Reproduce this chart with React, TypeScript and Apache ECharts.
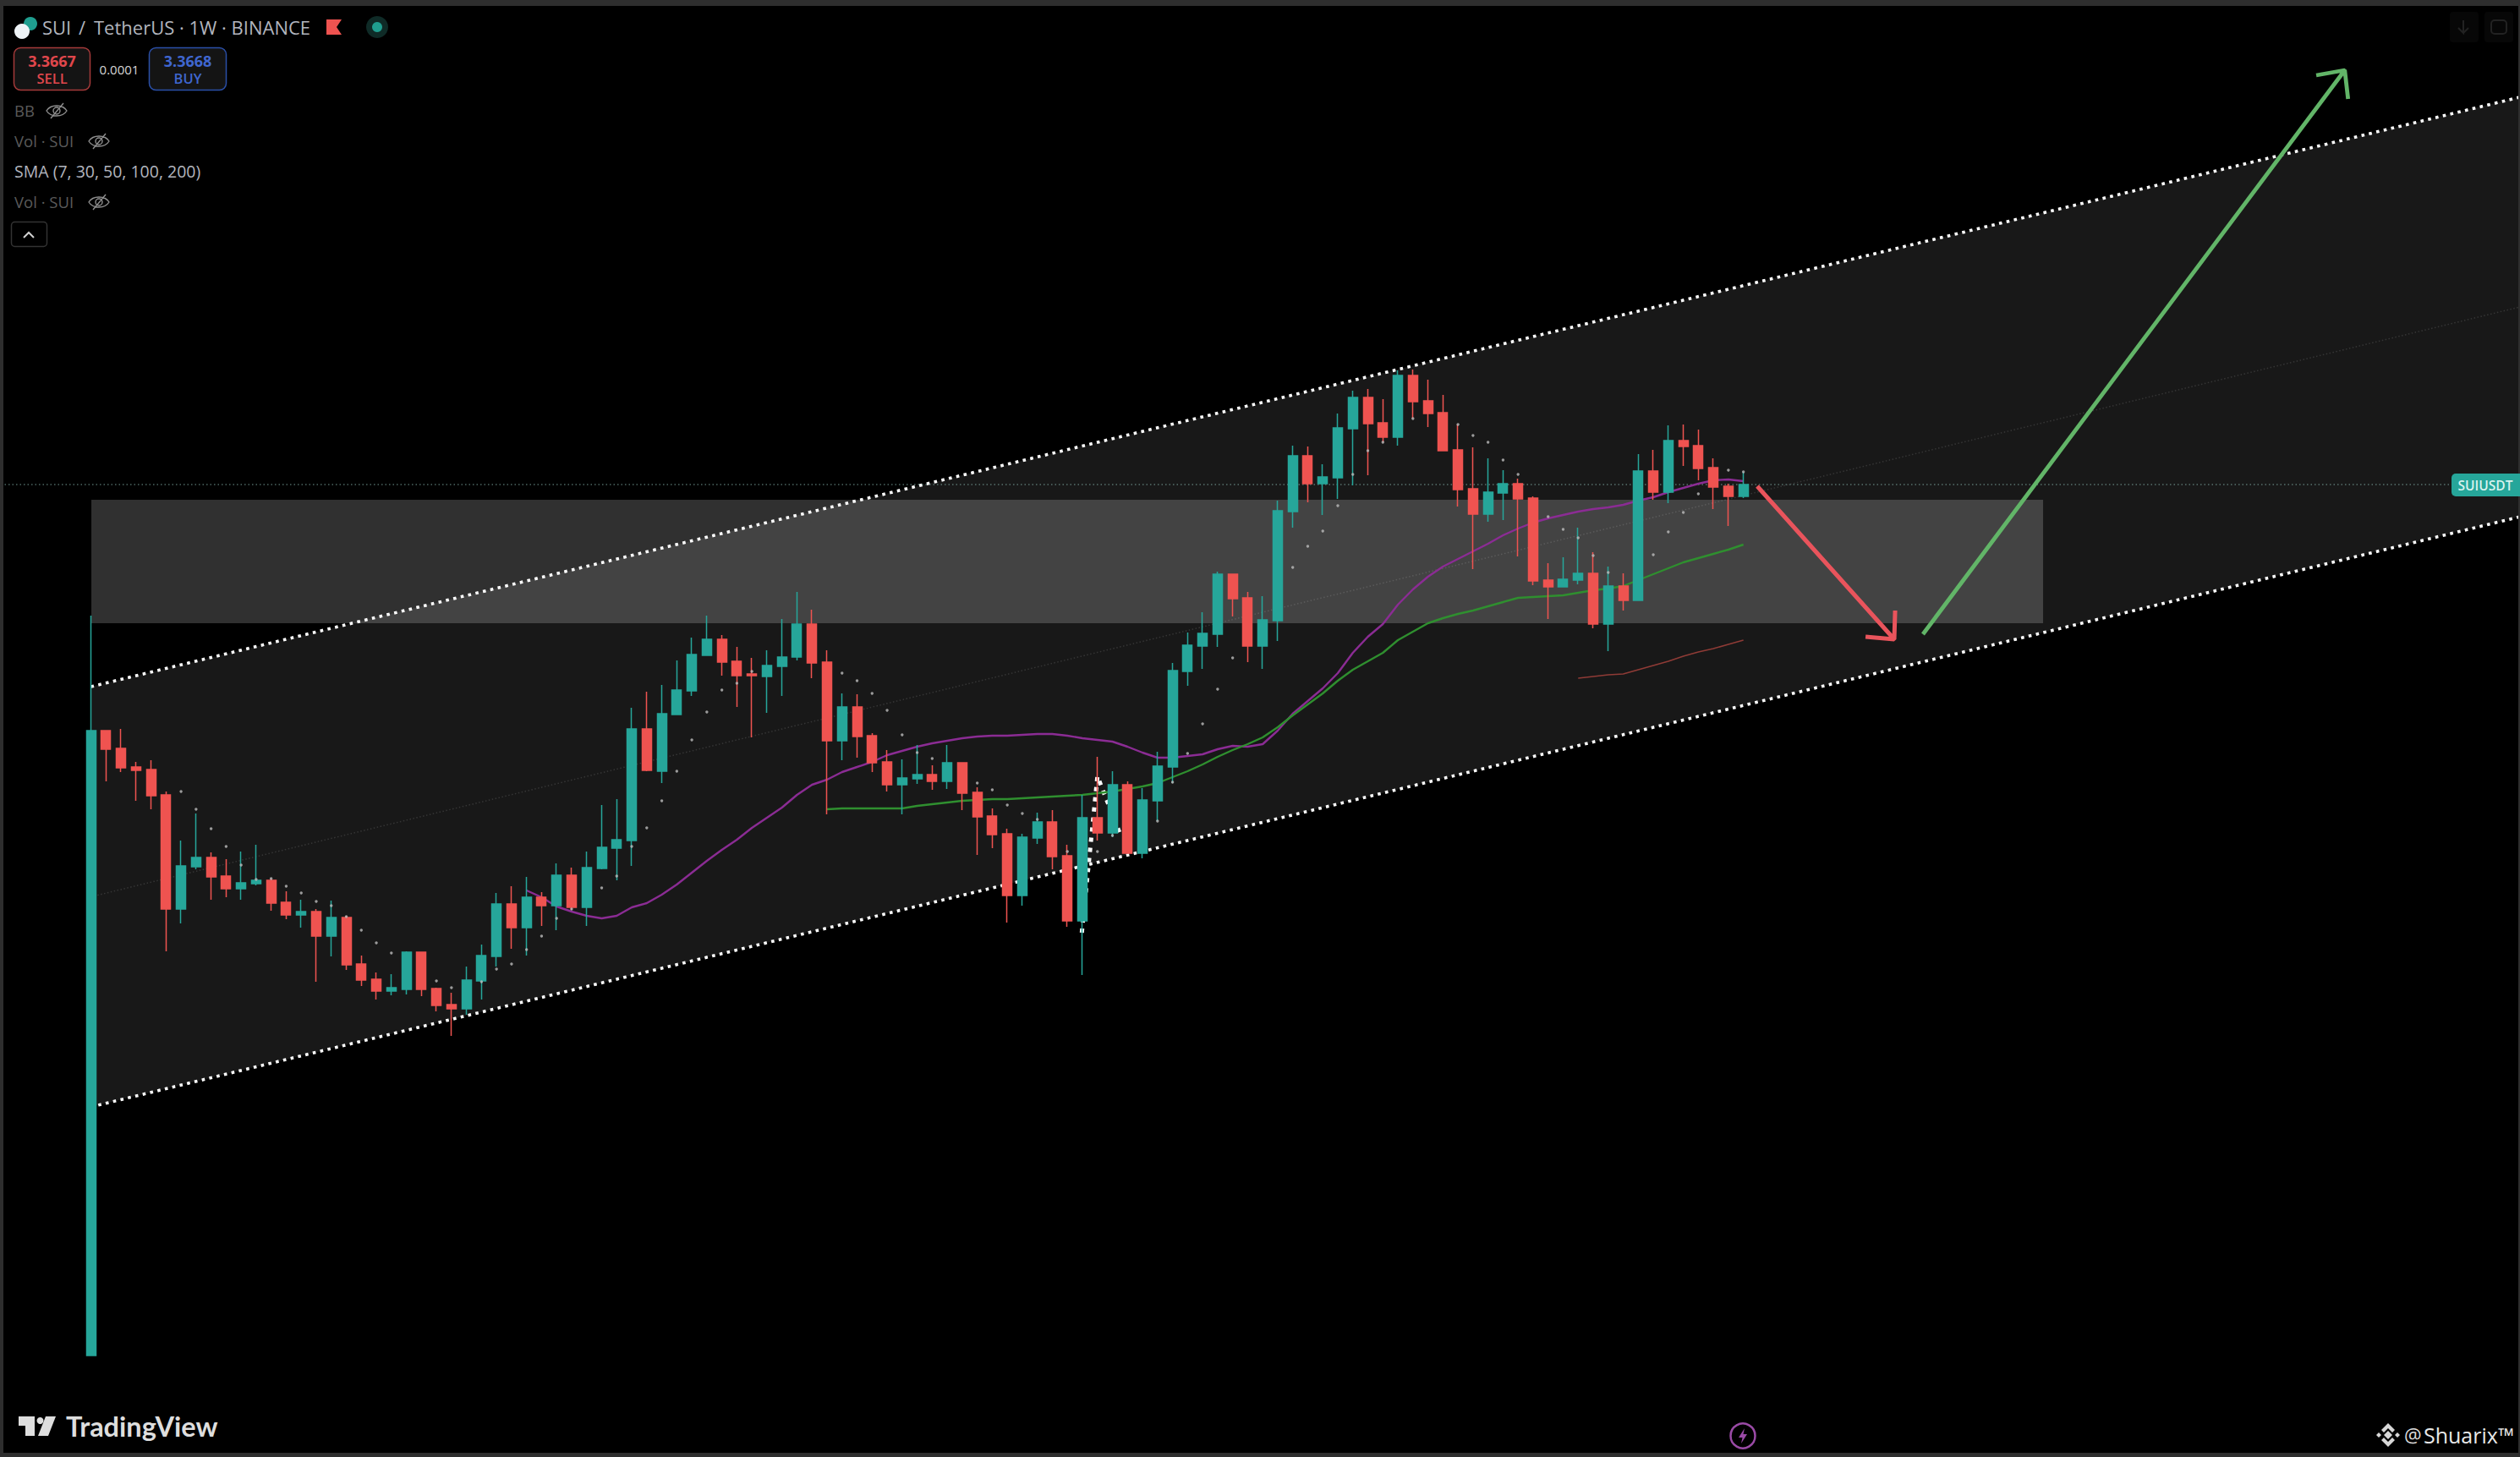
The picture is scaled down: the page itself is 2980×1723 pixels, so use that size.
import React, { useEffect, useRef } from "react";
import * as echarts from "echarts";

// The reference shows no price axis, so the hidden y axis runs in chart-height units (floor = 0, top = 1723).
const leadingBlanks = 6;
const futureSlots = 152;

const opens = [120,859,838,816,813,783,648,698,709,687,672,678,682,656,641,645,616,638,583,565,551,553,597,554,535,530,563,592,654,626,662,652,688,650,696,720,729,861,811,878,906,948,967,941,926,923,935,946,985,940,847,887,853,822,795,802,807,799,821,786,758,737,664,732,751,711,634,756,738,795,714,776,816,929,959,973,1044,1016,959,989,1118,1184,1151,1158,1216,1253,1223,1206,1279,1249,1235,1191,1145,1115,1140,1151,1134,1037,1029,1037,1045,985,1030,1013,1166,1141,1202,1196,1170,1148,1136];
const closes = [859,837,815,812,782,648,699,709,686,672,679,682,655,641,645,616,638,582,564,551,555,597,553,534,530,564,593,654,626,662,652,688,650,697,721,730,861,812,879,907,949,967,940,924,924,936,946,985,939,847,887,852,821,795,803,807,799,821,785,757,736,664,733,751,710,634,756,738,795,714,777,817,930,960,974,1044,1015,959,990,1119,1184,1151,1159,1217,1253,1222,1206,1279,1248,1234,1190,1144,1115,1141,1151,1133,1036,1029,1038,1045,985,1030,1013,1166,1141,1202,1195,1169,1147,1136,1150];
const lows = [120,799,810,776,766,598,631,695,659,662,659,676,646,636,626,562,592,576,557,541,546,547,545,527,498,523,541,580,601,593,628,623,647,628,695,682,699,811,797,878,900,948,924,887,851,880,900,942,921,760,824,827,810,787,760,796,789,790,765,712,720,632,652,725,695,627,570,729,733,714,708,752,797,912,932,958,994,940,932,965,1099,1129,1114,1133,1149,1161,1200,1196,1228,1218,1190,1124,1050,1106,1108,1065,1031,991,1029,1032,980,953,1001,1013,1132,1128,1172,1155,1121,1101,1134];
const highs = [995,859,861,822,824,787,729,761,715,707,716,724,684,669,659,648,658,640,593,573,571,598,597,555,549,580,606,667,675,686,668,702,697,716,771,778,886,905,913,942,969,995,972,958,945,954,991,1023,1002,954,903,902,856,836,825,842,818,842,821,792,767,743,737,762,765,724,783,828,811,799,791,834,939,975,999,1047,1044,1023,1018,1131,1196,1195,1174,1234,1261,1263,1251,1285,1286,1274,1256,1221,1194,1181,1167,1157,1136,1057,1064,1099,1070,1053,1045,1186,1191,1220,1221,1215,1181,1151,1165];

const sarDots = [[6,787],[7,766],[8,743],[9,722],[10,700],[11,683],[12,684],[13,675],[14,667],[15,657],[16,652],[17,639],[18,623],[19,608],[20,596],[23,563],[24,555],[26,562],[27,577],[28,583],[29,600],[30,616],[31,637],[32,648],[34,673],[35,687],[36,722],[37,744],[38,776],[39,811],[40,848],[41,881],[42,907],[43,915],[44,929],[50,927],[51,918],[52,903],[53,883],[54,854],[55,833],[56,826],[59,797],[60,789],[61,771],[62,761],[63,754],[65,716],[67,716],[68,735],[71,752],[72,798],[73,832],[74,867],[75,908],[76,945],[80,1052],[81,1077],[82,1095],[83,1125],[84,1162],[85,1190],[86,1200],[88,1228],[91,1221],[92,1208],[93,1200],[94,1179],[95,1162],[97,1112],[98,1097],[99,1087],[100,1066],[101,1046],[104,1067],[105,1094],[106,1117],[107,1139],[109,1167],[110,1165]];

const smaPurpleStart = 29;
const smaPurple = [670,662,651,645,640,637,640,650,655,665,677,691,705,718,730,744,756,768,783,795,801,810,816,822,830,835,840,844,847,850,852,853,853,854,855,855,853,850,848,846,840,833,827,827,829,831,837,841,840,843,859,879,894,909,927,951,970,985,1008,1026,1041,1053,1062,1071,1080,1090,1098,1105,1110,1114,1118,1121,1123,1126,1131,1135,1141,1146,1151,1155,1156,1154];
const smaGreenStart = 49;
const smaGreen = [766,767,767,767,767,767,770,772,774,776,777,778,778,779,780,781,782,783,785,787,790,793,797,804,811,819,828,836,843,851,863,877,890,903,918,931,941,951,966,976,986,992,997,1001,1006,1011,1016,1017,1018,1019,1022,1025,1027,1030,1037,1044,1051,1058,1063,1068,1073,1079];
const smaRedStart = 99;
const smaRed = [921,923,925,926,931,936,941,947,952,956,961,966];

const channelSpan = [0, 162.5];
const channelTop = [911, 1611.6];
const channelMid = [662.5, 1363.5];
const channelBottom = [414, 1115.4];
const zoneSpan = [0.03, 129.95];
const zoneLevels = [986, 1132];
const lastPriceLevel = 1150;
const redArrow = [[110.92,1148],[120.04,967],[120.1,1001],[120.04,967],[118.13,970]];
const greenArrow = [[121.95,973],[150.03,1640],[148.13,1634],[150.03,1640],[150.25,1606]];
const whiteSwing = [[65.96,620],[67,805],[68.5,737]];

const UP = "#26a69a";
const DOWN = "#ef5350";
const FONT = "'Open Sans', sans-serif";

echarts.graphic.registerShape(
  "eyeOff",
  echarts.graphic.extendPath("M0 9 C5 1 19 1 24 9 C19 17 5 17 0 9 Z M16 9 A4 4 0 1 1 8 9 A4 4 0 1 1 16 9 Z M5 18 L20 0", {})
);

const slots = leadingBlanks + futureSlots + 11;
const categories = Array.from({ length: slots }, (_, k) => String(k - leadingBlanks));
const shifted = (start: number, values: number[]) => [
  ...Array(leadingBlanks + start).fill(null),
  ...values,
];
const candleData = [
  ...Array(leadingBlanks).fill(["-", "-", "-", "-"]),
  ...opens.map((o, i) => [o, closes[i], lows[i], highs[i]]),
];

const txt = (text: string, x: number, y: number, size: number, fill: string, extra: any = {}) => ({
  type: "text",
  silent: true,
  z: 100,
  style: {
    text, x, y, fill,
    font: `${extra.weight || 400} ${size}px ${extra.family || FONT}`,
    textAlign: extra.align || "left",
    textVerticalAlign: "middle",
  },
});
const box = (x: number, y: number, width: number, height: number, r: any, fill: string, stroke?: string, lw = 1.5) => ({
  type: "rect",
  silent: true,
  z: 100,
  shape: { x, y, width, height, r },
  style: { fill, stroke: stroke || "none", lineWidth: lw },
});
const poly = (points: number[][], fill: string) => ({
  type: "polygon", silent: true, z: 100, shape: { points }, style: { fill },
});
const eye = (x: number, y: number) => ({
  type: "eyeOff", silent: true, z: 100, x, y,
  style: { fill: "none", stroke: "#8f8f8f", lineWidth: 1.4 },
});
const diamond = (cx: number, cy: number, r: number, fill: string) =>
  poly([[cx, cy - r], [cx + r, cy], [cx, cy + r], [cx - r, cy]], fill);

const graphicElements: any[] = [
  box(0, 0, 2980, 7, 0, "#2e2e2e"),
  box(0, 0, 4, 1723, 0, "#2e2e2e"),
  box(0, 1718, 2980, 5, 0, "#2e2e2e"),
  box(2978, 0, 2, 1723, 0, "#2e2e2e"),
  { type: "circle", silent: true, z: 100, shape: { cx: 36, cy: 28, r: 8 }, style: { fill: "#1f9e8f" } },
  { type: "circle", silent: true, z: 101, shape: { cx: 26, cy: 37, r: 9 }, style: { fill: "#eef3f6" } },
  txt("SUI", 50, 31.5, 22, "#b2b5be"),
  txt("/", 93, 31.5, 22, "#b2b5be"),
  txt("TetherUS · 1W · BINANCE", 111, 31.5, 22, "#b2b5be"),
  poly([[386, 23], [404, 23], [398, 32], [404, 41], [386, 41]], "#ef5350"),
  { type: "circle", silent: true, z: 100, shape: { cx: 446, cy: 32, r: 13 }, style: { fill: "#0f2b27" } },
  { type: "circle", silent: true, z: 101, shape: { cx: 446, cy: 32, r: 6 }, style: { fill: "#1f9e8f" } },
  box(16.5, 56.5, 90, 50, 8, "#141414", "#a53a3a"),
  txt("3.3667", 61.5, 71.5, 18, "#e0474c", { align: "center", weight: 700 }),
  txt("SELL", 61.5, 92.5, 16.5, "#e0474c", { align: "center", weight: 600 }),
  txt("0.0001", 141, 81.5, 15, "#d6d6d6", { align: "center" }),
  box(176.5, 56.5, 91, 50, 8, "#141414", "#2a4fa8"),
  txt("3.3668", 222, 71.5, 18, "#3f66cf", { align: "center", weight: 700 }),
  txt("BUY", 222, 92.5, 16.5, "#3f66cf", { align: "center", weight: 600 }),
  txt("BB", 17, 130, 18.5, "#5a5a5a"),
  eye(55, 122),
  txt("Vol · SUI", 17, 166, 18.5, "#5a5a5a"),
  eye(105, 158),
  txt("SMA (7, 30, 50, 100, 200)", 17, 202, 19.5, "#b2b5be"),
  txt("Vol · SUI", 17, 238, 18.5, "#5a5a5a"),
  eye(105, 230),
  box(13.5, 262.5, 42, 29, 4, "#000", "#333"),
  {
    type: "polyline", silent: true, z: 101,
    shape: { points: [[28, 281], [34, 275], [40, 281]] },
    style: { fill: "none", stroke: "#d0d0d0", lineWidth: 2 },
  },
  box(2897, 14, 34, 36, 4, "#070707"),
  box(2938, 14, 34, 36, 4, "#070707"),
  {
    type: "polyline", silent: true, z: 101,
    shape: { points: [[2913, 24], [2913, 39], [2907, 33], [2913, 39], [2919, 33]] },
    style: { fill: "none", stroke: "#222", lineWidth: 2 },
  },
  box(2946, 24, 18, 16, 4, "none", "#222", 2),
  box(2899, 560, 81, 27, [5, 0, 0, 5], UP),
  txt("SUIUSDT", 2939, 574, 15.5, "#d9f3ef", { align: "center", weight: 600 }),
  poly([[22, 1675], [41, 1675], [41, 1698], [30, 1698], [30, 1686], [22, 1686]], "#dedede"),
  { type: "circle", silent: true, z: 100, shape: { cx: 47.5, cy: 1680, r: 4 }, style: { fill: "#dedede" } },
  poly([[54, 1675], [66, 1675], [57, 1698], [45, 1698]], "#dedede"),
  txt("TradingView", 78, 1686, 32.5, "#dedede", { weight: 700, family: "Lato, sans-serif" }),
  { type: "circle", silent: true, z: 100, shape: { cx: 2061, cy: 1698, r: 14.5 }, style: { fill: "none", stroke: "#9a4aa6", lineWidth: 2.5 } },
  poly([[2063, 1689], [2056, 1700], [2060.5, 1700], [2059, 1707], [2066, 1696], [2061.5, 1696]], "#9a4aa6"),
  diamond(2824, 1697, 5, "#d8d8d8"),
  diamond(2813, 1697, 3, "#d8d8d8"),
  diamond(2835, 1697, 3, "#d8d8d8"),
  poly([[2824, 1683], [2832, 1691], [2829, 1694], [2824, 1689], [2819, 1694], [2816, 1691]], "#d8d8d8"),
  poly([[2824, 1711], [2832, 1703], [2829, 1700], [2824, 1705], [2819, 1700], [2816, 1703]], "#d8d8d8"),
  txt("@", 2843, 1697, 23, "#dcdcdc"),
  txt("Shuarix™", 2866, 1697, 25, "#e8e8e8", { weight: 500 }),
];

const overlayLine = (name: string, data: number[][], color: string, width: number, z: number, type: any = "solid") => ({
  name,
  type: "line",
  xAxisIndex: 1,
  yAxisIndex: 0,
  data,
  z,
  symbol: "none",
  silent: true,
  lineStyle: { color, width, type, cap: "butt", opacity: 1 },
});
const smaLine = (name: string, start: number, values: number[], color: string, width: number) => ({
  name,
  type: "line",
  xAxisIndex: 0,
  yAxisIndex: 0,
  data: shifted(start, values),
  z: 6,
  symbol: "none",
  silent: true,
  connectNulls: false,
  lineStyle: { color, width },
});

const buildOption = (): any => ({
  animation: false,
  backgroundColor: "#000000",
  grid: { left: -7.97, top: 0, width: 169 * 17.765, height: 1723, containLabel: false, outerBoundsMode: "none" },
  xAxis: [
    { type: "category", data: categories, show: false, boundaryGap: true },
    { type: "value", min: -6.5, max: 162.5, show: false, splitLine: { show: false } },
  ],
  yAxis: { type: "value", min: 0, max: 1723, show: false, splitLine: { show: false } },
  series: [
    {
      name: "Channel",
      type: "custom",
      xAxisIndex: 1,
      yAxisIndex: 0,
      z: 1,
      silent: true,
      data: [[channelSpan[0], channelTop[0]]],
      renderItem: (_: any, api: any) => ({
        type: "polygon",
        shape: {
          points: [
            api.coord([channelSpan[0], channelTop[0]]),
            api.coord([channelSpan[1], channelTop[1]]),
            api.coord([channelSpan[1], channelBottom[1]]),
            api.coord([channelSpan[0], channelBottom[0]]),
          ],
        },
        style: { fill: "#181818" },
      }),
    },
    overlayLine("Channel middle", channelSpan.map((x, k) => [x, channelMid[k]]), "rgba(255,255,255,0.13)", 1.5, 2, [1.5, 2.5]),
    {
      name: "Zone",
      type: "custom",
      xAxisIndex: 1,
      yAxisIndex: 0,
      z: 3,
      silent: true,
      data: [[zoneSpan[0], zoneLevels[1]]],
      renderItem: (_: any, api: any) => {
        const a = api.coord([zoneSpan[0], zoneLevels[1]]);
        const b = api.coord([zoneSpan[1], zoneLevels[0]]);
        return {
          type: "rect",
          shape: { x: a[0], y: a[1], width: b[0] - a[0], height: b[1] - a[1] },
          style: { fill: "rgba(255,255,255,0.19)" },
        };
      },
    },
    overlayLine("Channel top", channelSpan.map((x, k) => [x, channelTop[k]]), "#ffffff", 3.6, 4, [3.6, 5.4]),
    overlayLine("Channel bottom", channelSpan.map((x, k) => [x, channelBottom[k]]), "#ffffff", 3.6, 4, [3.6, 5.4]),
    overlayLine("Swing", whiteSwing, "#ffffff", 5, 5, [5, 7]),
    overlayLine("Last price", [[-6.5, lastPriceLevel], [162.5, lastPriceLevel]], "rgba(140,190,180,0.55)", 1.5, 5, [1.5, 3]),
    smaLine("SMA 30", smaPurpleStart, smaPurple, "#8b2c94", 2.4),
    smaLine("SMA 50", smaGreenStart, smaGreen, "#2f8f2f", 2.4),
    smaLine("SMA 100", smaRedStart, smaRed, "#8f3b36", 1.6),
    {
      name: "SUI / TetherUS",
      type: "candlestick",
      xAxisIndex: 0,
      yAxisIndex: 0,
      z: 8,
      barWidth: 11.5,
      silent: true,
      data: candleData,
      itemStyle: { color: UP, color0: DOWN, borderColor: UP, borderColor0: DOWN, borderWidth: 1.5 },
    },
    {
      name: "Dots",
      type: "scatter",
      xAxisIndex: 0,
      yAxisIndex: 0,
      z: 9,
      symbol: "circle",
      symbolSize: 3.4,
      silent: true,
      data: sarDots.map(([i, v]) => [i + leadingBlanks, v]),
      itemStyle: { color: "#bdbdbd" },
    },
    overlayLine("Down arrow", redArrow, "#e9545c", 5, 10),
    overlayLine("Up arrow", greenArrow, "#62b568", 4.8, 10),
  ],
  graphic: { elements: graphicElements },
});

export default function App() {
  const ref = useRef<HTMLDivElement>(null);
  useEffect(() => {
    document.body.style.margin = "0";
    document.body.style.background = "#000";
    const chart = echarts.init(ref.current!, undefined, { renderer: "svg" });
    chart.setOption(buildOption());
    return () => chart.dispose();
  }, []);
  return <div ref={ref} style={{ position: "absolute", left: 0, top: 0, width: 2980, height: 1723 }} />;
}
